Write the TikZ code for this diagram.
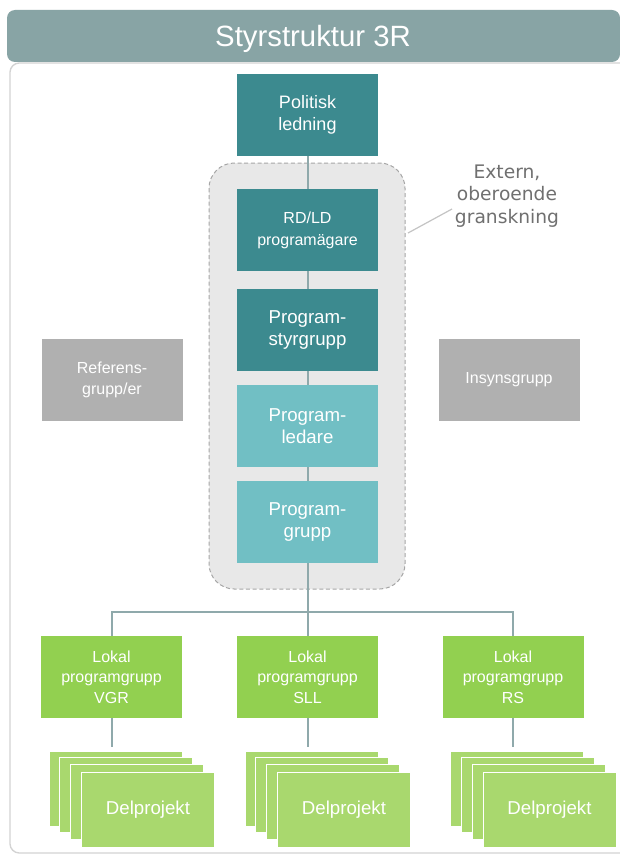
\documentclass[tikz,border=0pt]{standalone}
\usepackage{fontspec}
\setmainfont{Liberation Sans}
\newfontfamily\dejavu{DejaVu Sans}
\definecolor{headcol}{HTML}{88A4A5}
\definecolor{darkteal}{HTML}{3C8A8F}
\definecolor{lightteal}{HTML}{71BFC4}
\definecolor{lokalgreen}{HTML}{92D050}
\definecolor{dpgreen}{HTML}{A9D86E}
\definecolor{boxgray}{HTML}{B0B0B0}
\definecolor{conncol}{HTML}{8FA9AB}
\definecolor{panelline}{HTML}{D3D3D3}
\definecolor{groupfill}{HTML}{E8E8E8}
\definecolor{groupline}{HTML}{A6A6A6}
\definecolor{exttext}{HTML}{707070}
\definecolor{leadercol}{HTML}{C4C4C4}
\tikzset{
  boxbase/.style={rectangle, minimum width=105.75pt, minimum height=61.5pt, inner sep=0pt, align=center, text=white},
  dteal/.style={boxbase, fill=darkteal},
  lteal/.style={boxbase, fill=lightteal, font=\fontsize{14}{17}\selectfont},
  lokal/.style={boxbase, fill=lokalgreen, font=\fontsize{12}{15.5}\selectfont},
  graybox/.style={boxbase, fill=boxgray, font=\fontsize{12}{15.5}\selectfont},
  sheet/.style={rectangle, minimum width=99.75pt, minimum height=56.25pt, inner sep=0pt, fill=dpgreen, draw=white, line width=0.75pt, text=white, font=\fontsize{14}{17}\selectfont},
  conn/.style={draw=conncol, line width=1.5pt},
}
\newcommand\dstack[2]{%
  \node[sheet] (#1a) at (#2+4, 788.5) {};
  \node[sheet] (#1b) at (#2+14.5, 794.5) {};
  \node[sheet] (#1c) at (#2+25.5, 801.5) {};
  \node[sheet] (#1d) at (#2+36.5, 809.5) {Delprojekt};
}
\begin{document}
\begin{tikzpicture}[x=0.75pt,y=-0.75pt]
\clip (0,0) rectangle (620,856);
\fill[white] (0,0) rectangle (620,856);
% panel
\draw[draw=panelline, line width=1pt, fill=white, rounded corners=7pt] (10,63) rectangle (640,853);
% header
\fill[headcol, rounded corners=6pt] (7,10) rectangle (620,62);
\node[text=white, font=\fontsize{22}{26}\selectfont] (title) at (313,39) {Styrstruktur 3R};
% group
\draw[draw=groupline, fill=groupfill, line width=0.75pt, dash pattern=on 3pt off 2pt, rounded corners=19pt] (209,163) rectangle (405,589);
% central column
\node[dteal, font=\fontsize{13.5}{16.5}\selectfont] (pol) at (307.5,115) {Politisk\\ledning};
\node[dteal, font=\fontsize{12}{16.5}\selectfont] (rdld) at (307.5,230) {RD/LD\\programägare};
\node[dteal, font=\fontsize{14}{17}\selectfont] (styr) at (307.5,330) {Program-\\styrgrupp};
\node[lteal] (led) at (307.5,426) {Program-\\ledare};
\node[lteal] (grp) at (307.5,522) {Program-\\grupp};
% side boxes
\node[graybox] (ref) at (112,380) {Referens-\\grupp/er};
\node[graybox] (ins) at (509,380) {Insynsgrupp};
% local groups
\node[lokal] (vgr) at (111.5,677) {Lokal\\programgrupp\\VGR};
\node[lokal] (sll) at (307.5,677) {Lokal\\programgrupp\\SLL};
\node[lokal] (rs) at (513,677) {Lokal\\programgrupp\\RS};
% connectors
\draw[conn] (pol) -- (rdld);
\draw[conn] (rdld) -- (styr);
\draw[conn] (styr) -- (led);
\draw[conn] (led) -- (grp);
\coordinate (j) at (307.5,612);
\draw[conn] (grp.south) -- (j);
\draw[conn] (vgr.north) |- (j) -| (rs.north);
\draw[conn] (j) -- (sll.north);
% delprojekt stacks
\dstack{v}{111.5}
\dstack{s}{307.5}
\dstack{r}{513}
\draw[conn, shorten >=3pt] (vgr.south) -- (vgr.south |- va.north);
\draw[conn, shorten >=3pt] (sll.south) -- (sll.south |- sa.north);
\draw[conn, shorten >=3pt] (rs.south) -- (rs.south |- ra.north);
% external review
\node[text=exttext, align=center, font=\dejavu\fontsize{14}{17}\selectfont] (ext) at (507,196) {Extern,\\oberoende\\granskning};
\coordinate (l1) at (408,233);
\coordinate (l2) at (452,209);
\draw[leadercol, line width=0.9pt] (l1) -- (l2);
\end{tikzpicture}
\end{document}
